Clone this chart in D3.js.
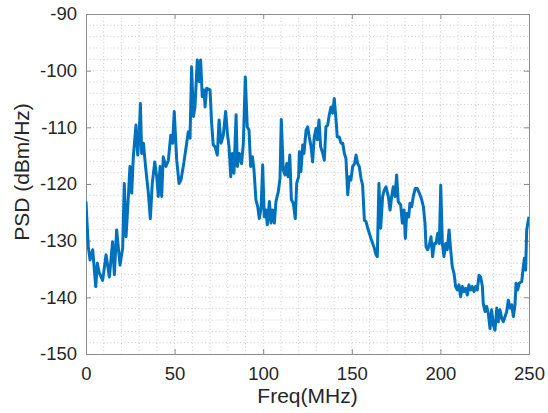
<!DOCTYPE html>
<html>
<head>
<meta charset="utf-8">
<script src="https://cdn.jsdelivr.net/npm/d3@7"></script>
<style>
  body { margin: 0; background: #fff; }
  .axis text { font-family: "Liberation Sans", Arial, sans-serif; font-size: 18.5px; fill: #262626; }
  .axis path, .axis line { stroke: #8c8c8c; }
  .label { font-family: "Liberation Sans", Arial, sans-serif; font-size: 21px; fill: #262626; }
</style>
</head>
<body>
<div id="chart"></div>
<script>
// frequency (MHz) and PSD (dBm/Hz)
const freq = [
  0, 0.7, 1.3, 2.3, 3.8, 4.5, 5.5, 6.4, 7.5, 9.4, 11.3, 13.2, 15, 16, 17.3, 19.2, 20.7, 21.6, 22.6, 23.9,
  24.8, 25.8, 26.7, 28.2, 29.2, 30.1, 30.7, 31.4, 32.4, 33.7, 35.2, 36.3, 37.4, 38.8, 39.9, 40.8, 41.8, 42.7, 43.6, 45.1,
  46.5, 47.8, 48.9, 49.8, 51.2, 52.5, 53.6, 55.3, 56.8, 57.7, 58.7, 59.6, 60.6, 61.5, 62.8, 63.8, 64.7, 65.6, 66.6, 67.2,
  68.1, 70, 70.9, 71.8, 72.8, 74.1, 75.1, 76.2, 77.5, 78.8, 79.8, 80.7, 81.7, 82.6, 83.5, 84.7, 85.4, 86.5, 87.8, 88.8,
  89.9, 91, 92, 92.9, 93.9, 94.8, 95.9, 96.9, 97.8, 98.8, 99.7, 100.6, 101.6, 102.3, 103.5, 104.4, 105.3, 106.3, 107.2, 108.5,
  109.5, 110.2, 111.3, 112.3, 113.3, 114, 115, 115.9, 117, 118.1, 118.9, 120, 120.4, 121.3, 122.3, 123, 124.2, 125.1, 126, 127,
  127.9, 128.8, 129.8, 130.5, 131.5, 132.4, 133.6, 134.5, 135.4, 136.4, 137.3, 138.3, 139.2, 140.1, 141.1, 141.8, 142.9, 143.9, 144.9, 145.8,
  146.7, 147.7, 148.6, 149.5, 150.5, 151.6, 152.4, 153.3, 154.2, 155.2, 156.1, 157.1, 158, 159, 159.9, 160.8, 161.8, 162.7, 163.7, 164.4,
  165.3, 166.3, 167.4, 168.3, 169.3, 170.6, 171.6, 172.5, 173.4, 174.4, 175.3, 176.2, 177.6, 178.5, 179.5, 180.2, 181, 182.1, 182.8, 183.8,
  184.7, 185.8, 187, 188.1, 189.2, 190.4, 191.3, 191.9, 192.8, 193.7, 194.7, 195.6, 196.6, 197.5, 198.5, 199.4, 200.2, 201.1, 202, 203,
  203.9, 204.9, 205.8, 206.7, 207.7, 208.6, 209.5, 210.5, 211.4, 212.4, 213.3, 214.3, 215.2, 216.1, 217.1, 218, 219, 219.9, 220.8, 221.8,
  222.7, 223.7, 224.2, 225.2, 226.1, 227, 228, 228.9, 229.9, 230.8, 231.8, 232.7, 233.6, 234.6, 235.5, 236.5, 237.4, 238.3, 239.3, 240.2,
  241.2, 242.1, 242.7, 243.6, 244.5, 245.9, 246.8, 247.4, 248.1, 248.7, 249.6, 250
];
const psd = [
  -123.1, -127.5, -131.1, -133.4, -131.6, -134.3, -138.1, -134, -135.7, -137, -132.5, -136.4, -130.2, -136, -128.1, -134.3, -131.3, -119.9, -129.3, -122.2,
  -116.9, -121.6, -115.2, -109.6, -114.9, -110.5, -105.8, -114.6, -112.8, -117.2, -121.6, -126.1, -119.9, -116.1, -118.7, -122.2, -116.9, -122.2, -115.2, -116.9,
  -115.8, -111.4, -112.8, -107.2, -115.8, -119.9, -119.3, -116.1, -112.8, -110.8, -111.9, -99.3, -108.1, -106.4, -98.1, -101.9, -98.1, -104.6, -103.4, -106.4,
  -103.1, -103.4, -109.3, -113.1, -113.4, -114.9, -108.7, -112.8, -111.4, -107.2, -111.1, -113.4, -118.7, -114.6, -118.1, -107.8, -116.9, -114.6, -116.4, -112.8,
  -101.1, -109.9, -110.5, -116.9, -115.2, -117.5, -122.8, -124, -126.1, -124.3, -116.6, -125.8, -124.6, -127.2, -123.1, -126.9, -124.6, -126.9, -123.1, -121.4,
  -119, -108.6, -117.5, -118.4, -116.4, -118.7, -114.9, -122.8, -123.4, -126.1, -119.9, -118.7, -114.3, -117.8, -113.1, -114.6, -110.5, -109.9, -111.7, -113.4,
  -116.1, -111.7, -110.2, -112.2, -108.7, -113.4, -114.6, -115.8, -109.9, -109.6, -107.8, -106.4, -107.5, -104.9, -108.7, -111.7, -111.7, -112.8, -112.8, -114.6,
  -115.5, -121.9, -118.7, -119.3, -116.9, -116.4, -114.9, -116.4, -116.9, -119, -120.2, -126.4, -126.6, -127.8, -128.7, -129.6, -130.5, -131.3, -132.5, -132.8,
  -119.9, -127.8, -122.2, -121.1, -120.5, -122.2, -124.6, -122.2, -120.5, -122.2, -118.4, -123.1, -123.7, -126.9, -124.6, -129.6, -125.2, -125.8, -123.4, -124,
  -122.2, -120.8, -120.8, -121.6, -122.5, -124, -126.9, -131.1, -131.6, -130.8, -129.3, -132.8, -130.5, -130.5, -128.7, -130.5, -120.2, -130.5, -132.8, -130.5,
  -131.6, -128.1, -131.6, -134.6, -135.8, -138.1, -138.7, -137.8, -139.9, -138.1, -139, -138.4, -139.6, -137.8, -138.7, -138.1, -139, -138.1, -138.7, -136.1,
  -136.4, -138.1, -141.1, -142.5, -141.6, -142.8, -145.5, -142.2, -144.9, -145.8, -141.9, -144.3, -142.2, -143.7, -144.3, -143.4, -142.5, -140.5, -141.9, -141.3,
  -143.4, -141.3, -137.5, -138.7, -137.5, -137.2, -134.6, -133.1, -135.2, -128.1, -126.4, -125.8
];
const xTicks = [0, 50, 100, 150, 200, 250];
const yTicks = [-150, -140, -130, -120, -110, -100, -90];

const data = freq.map((f, i) => ({ f: f, v: psd[i] }));

const margin = { top: 14, right: 19, bottom: 59, left: 86 },
  width = 548 - margin.left - margin.right,
  height = 413 - margin.top - margin.bottom;

const svg = d3
  .select("#chart")
  .append("svg")
  .attr("width", 548)
  .attr("height", 413)
  .append("g")
  .attr("transform", `translate(${margin.left},${margin.top})`);

const x = d3.scaleLinear().domain([0, 250]).range([0, width]);
const y = d3.scaleLinear().domain([-150, -90]).range([height, 0]);

// minor dotted grid
svg
  .append("g")
  .selectAll("line")
  .data(d3.range(10, 250, 10))
  .join("line")
  .attr("x1", (d) => x(d))
  .attr("x2", (d) => x(d))
  .attr("y1", 0)
  .attr("y2", height)
  .attr("stroke", "#cfcfcf")
  .attr("stroke-width", 1)
  .attr("stroke-dasharray", "1,2.5");
svg
  .append("g")
  .selectAll("line")
  .data(d3.range(-148, -90, 2))
  .join("line")
  .attr("x1", 0)
  .attr("x2", width)
  .attr("y1", (d) => y(d))
  .attr("y2", (d) => y(d))
  .attr("stroke", "#cfcfcf")
  .attr("stroke-width", 1)
  .attr("stroke-dasharray", "1,2.5");

// axes, ticks pointing inward (plain hyphen for negatives, like the original)
svg
  .append("g")
  .attr("class", "axis")
  .attr("transform", `translate(0,${height})`)
  .call(d3.axisBottom(x).tickValues(xTicks).tickSizeInner(-5).tickSizeOuter(0).tickPadding(13));
svg
  .append("g")
  .attr("class", "axis")
  .call(d3.axisLeft(y).tickValues(yTicks).tickFormat((d) => String(d)).tickSizeInner(-5).tickSizeOuter(0).tickPadding(9));
svg
  .append("g")
  .attr("class", "axis")
  .call(d3.axisTop(x).tickValues(xTicks).tickFormat("").tickSizeInner(-5).tickSizeOuter(0));
svg
  .append("g")
  .attr("class", "axis")
  .attr("transform", `translate(${width},0)`)
  .call(d3.axisRight(y).tickValues(yTicks).tickFormat("").tickSizeInner(-5).tickSizeOuter(0));

svg.append("clipPath").attr("id", "clip").append("rect").attr("width", width).attr("height", height);

// the PSD trace
svg
  .append("path")
  .datum(data)
  .attr("clip-path", "url(#clip)")
  .attr("fill", "none")
  .attr("stroke", "#0072BD")
  .attr("stroke-width", 3)
  .attr("stroke-linejoin", "round")
  .attr(
    "d",
    d3
      .line()
      .x(function (d) {
        return x(d.f);
      })
      .y(function (d) {
        return y(d.v);
      })
  );

svg
  .append("text")
  .attr("class", "label")
  .attr("x", width / 2)
  .attr("y", height + 49)
  .attr("text-anchor", "middle")
  .text("Freq(MHz)");

svg
  .append("text")
  .attr("class", "label")
  .attr("transform", `translate(${22 - margin.left},${172 - margin.top}) rotate(-90)`)
  .attr("dy", "0.35em")
  .attr("text-anchor", "middle")
  .text("PSD (dBm/Hz)");
</script>
</body>
</html>
